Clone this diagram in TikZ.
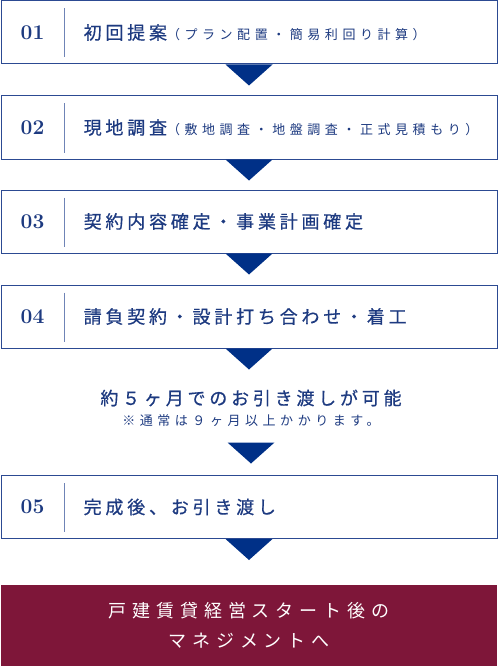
\documentclass[tikz,border=0pt]{standalone}
\usepackage{fontspec}
\usetikzlibrary{positioning}
\newfontfamily\jpfont{Noto Sans CJK JP}
\newfontfamily\jpwide[LetterSpace=21,FakeBold=0.6]{Noto Sans CJK JP}
\newfontfamily\jpsmall[LetterSpace=35]{Noto Sans CJK JP}
\newfontfamily\jpwhite[LetterSpace=33]{Noto Sans CJK JP}
\newcommand{\stepnotefont}{\fontsize{13}{13}\jpsmall}
\definecolor{navyline}{HTML}{2C4A92}
\definecolor{navytext}{HTML}{1D3A80}
\definecolor{navyfill}{HTML}{003087}
\definecolor{dividerc}{HTML}{6F84B6}
\definecolor{maroon}{HTML}{7E1639}
\tikzset{>=latex}
\tikzset{
  stepbox/.style={draw=navyline, line width=1pt, minimum width=496pt, minimum height=63pt, inner sep=0pt},
  stepnum/.style={text=navytext, font=\fontsize{21}{21}\selectfont\bfseries, inner sep=0pt},
  steplabel/.style={text=navytext, anchor=west, inner sep=0pt, font=\fontsize{18}{18}\jpwide},
  divider/.style={draw=dividerc, line width=1pt},
  downtri/.style={fill=navyfill}
}
\newcommand{\downmark}[1]{\fill[downtri] ([xshift=-23.5pt]#1) -- ([xshift=23.5pt]#1) -- ([yshift=-21pt]#1) -- cycle;}

\begin{document}
\begin{tikzpicture}[x=1pt, y=1pt]
  \useasboundingbox (0,0) rectangle (498,-666);
  \node[stepbox] (s1) at (249,-32.5) {};
  \node[stepbox, below of=s1, node distance=95pt] (s2) {};
  \node[stepbox, below of=s2, node distance=94pt] (s3) {};
  \node[stepbox, below of=s3, node distance=95pt] (s4) {};
  \node[stepbox, below of=s4, node distance=190.5pt] (s5) {};

  % numbers and dividers
  \node[stepnum] (n1) at ([xshift=32pt]s1.west) {01};
  \node[stepnum] (n2) at ([xshift=32pt]s2.west) {02};
  \node[stepnum] (n3) at ([xshift=32pt]s3.west) {03};
  \node[stepnum] (n4) at ([xshift=32pt]s4.west) {04};
  \node[stepnum] (n5) at ([xshift=32pt]s5.west) {05};
  \draw[divider] ([xshift=64pt,yshift=-8pt]s1.north west) -- ([xshift=64pt,yshift=7pt]s1.south west);
  \draw[divider] ([xshift=64pt,yshift=-8pt]s2.north west) -- ([xshift=64pt,yshift=7pt]s2.south west);
  \draw[divider] ([xshift=64pt,yshift=-8pt]s3.north west) -- ([xshift=64pt,yshift=7pt]s3.south west);
  \draw[divider] ([xshift=64pt,yshift=-8pt]s4.north west) -- ([xshift=64pt,yshift=7pt]s4.south west);
  \draw[divider] ([xshift=64pt,yshift=-8pt]s5.north west) -- ([xshift=64pt,yshift=7pt]s5.south west);

  % labels
  \node[steplabel] (t1) at ([xshift=83pt]s1.west) {初回提案{\stepnotefont（プラン配置・簡易利回り計算）}};
  \node[steplabel] (t2) at ([xshift=83pt]s2.west) {現地調査{\stepnotefont（敷地調査・地盤調査・正式見積もり）}};
  \node[steplabel] (t3) at ([xshift=83pt]s3.west) {契約内容確定・事業計画確定};
  \node[steplabel] (t4) at ([xshift=83pt]s4.west) {請負契約・設計打ち合わせ・着工};
  \node[steplabel] (t5) at ([xshift=83pt]s5.west) {完成後、お引き渡し};

  % note between 04 and 05
  \node[text=navytext, inner sep=0pt, font=\fontsize{18}{18}\jpwide] (m1) at (251,-398) {約５ヶ月でのお引き渡しが可能};
  \node[text=navytext, inner sep=0pt, below of=m1, node distance=23pt, font=\fontsize{13}{13}\jpsmall] (m2) {※通常は９ヶ月以上かかります。};
  \coordinate[below of=m2, node distance=21.5pt] (aux1);

  % last box
  \node[fill=maroon, text=white, minimum width=496pt, minimum height=81pt, inner sep=0pt, align=center,
        font=\fontsize{18}{30}\jpwhite] (goal) at (249,-625.5) {戸建賃貸経営スタート後の\\マネジメントへ};

  % arrow marks
  \downmark{s1.south}
  \downmark{s2.south}
  \downmark{s3.south}
  \downmark{s4.south}
  \downmark{aux1}
  \downmark{s5.south}
\end{tikzpicture}
\end{document}
